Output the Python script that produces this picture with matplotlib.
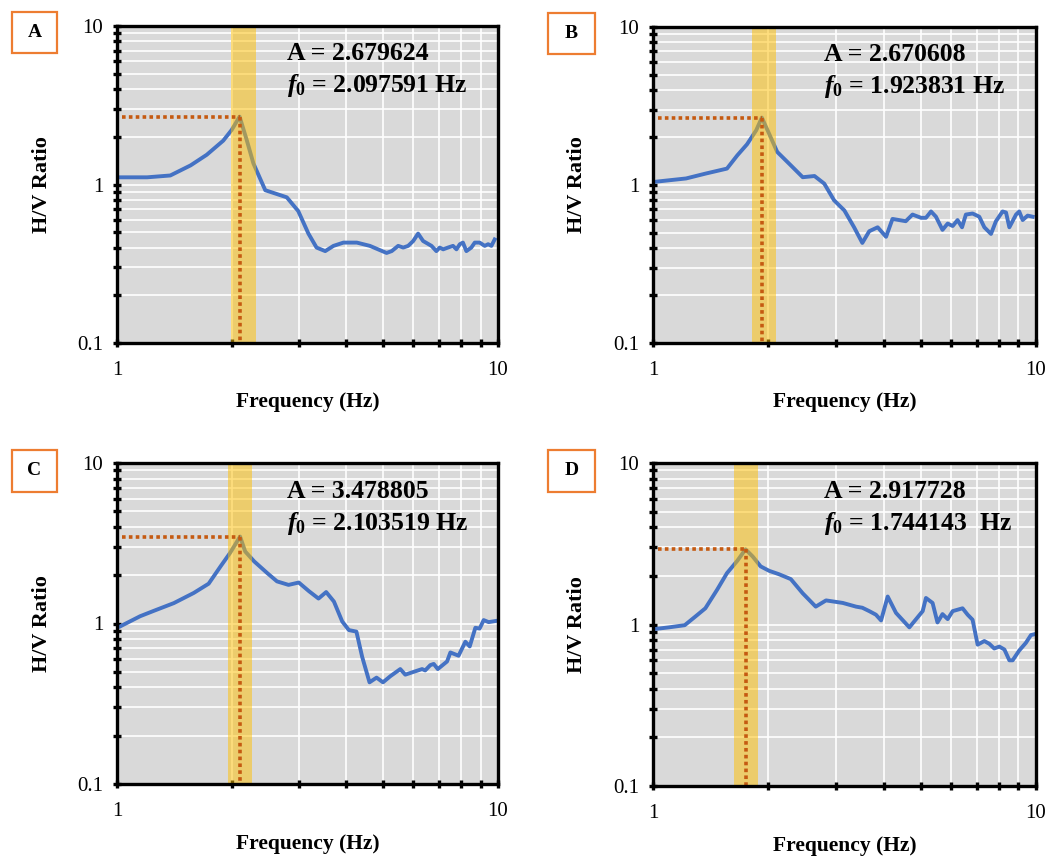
import matplotlib
matplotlib.use("Agg")
import matplotlib.pyplot as plt
from matplotlib.patches import Rectangle
from matplotlib.ticker import LogLocator, NullFormatter

plt.rcParams['font.family'] = ['Liberation Serif', 'DejaVu Serif']
plt.rcParams['mathtext.fontset'] = 'custom'
plt.rcParams['mathtext.rm'] = 'Liberation Serif:bold'
plt.rcParams['mathtext.it'] = 'Liberation Serif:italic:bold'
plt.rcParams['mathtext.bf'] = 'Liberation Serif:bold'

# ---- data ----
panel_names = ['A', 'B', 'C', 'D']
amplitudes = [2.679624, 2.670608, 3.478805, 2.917728]
f0_values = [2.097591, 1.923831, 2.103519, 1.744143]
f0_texts = ['2.097591 Hz', '1.923831 Hz', '2.103519 Hz', '1.744143  Hz']
band_lo = [1.99, 1.81, 1.95, 1.63]
band_hi = [2.31, 2.09, 2.26, 1.88]

freq_a = [1.01, 1.20, 1.38, 1.56, 1.72, 1.90, 2.00, 2.098, 2.19, 2.28, 2.45, 2.63, 2.79, 2.99, 3.18,
          3.34, 3.52, 3.70, 3.93, 4.26, 4.61, 5.10, 5.26, 5.47, 5.64, 5.81, 5.99, 6.17, 6.36, 6.69,
          6.89, 7.03, 7.18, 7.39, 7.62, 7.78, 7.94, 8.09, 8.26, 8.51, 8.69, 8.95, 9.23, 9.42, 9.61, 9.80]
hv_a = [1.11, 1.11, 1.14, 1.32, 1.54, 1.89, 2.21, 2.68, 1.91, 1.36, 0.92, 0.87, 0.83, 0.68, 0.49,
        0.40, 0.38, 0.41, 0.43, 0.43, 0.41, 0.37, 0.38, 0.41, 0.40, 0.41, 0.44, 0.49, 0.44, 0.41,
        0.38, 0.40, 0.39, 0.40, 0.41, 0.39, 0.42, 0.43, 0.38, 0.40, 0.43, 0.43, 0.41, 0.42, 0.41, 0.45]

freq_b = [1.02, 1.22, 1.37, 1.56, 1.66, 1.76, 1.86, 1.924, 2.01, 2.11, 2.27, 2.46, 2.64, 2.80, 2.97,
          3.16, 3.35, 3.52, 3.67, 3.86, 4.06, 4.22, 4.57, 4.76, 5.01, 5.16, 5.32, 5.48, 5.70, 5.88,
          6.06, 6.24, 6.41, 6.56, 6.83, 7.11, 7.33, 7.63, 7.86, 8.18, 8.35, 8.52, 8.87, 9.04, 9.23,
          9.51, 9.80]
hv_b = [1.05, 1.10, 1.18, 1.27, 1.54, 1.81, 2.22, 2.67, 2.11, 1.62, 1.36, 1.12, 1.14, 1.02, 0.80,
        0.69, 0.54, 0.43, 0.51, 0.54, 0.47, 0.61, 0.59, 0.65, 0.62, 0.62, 0.68, 0.63, 0.52, 0.57,
        0.55, 0.60, 0.54, 0.65, 0.66, 0.63, 0.54, 0.49, 0.59, 0.68, 0.67, 0.54, 0.65, 0.68, 0.60,
        0.64, 0.63]

freq_c = [1.02, 1.15, 1.25, 1.41, 1.59, 1.74, 1.87, 1.98, 2.104, 2.17, 2.29, 2.48, 2.63, 2.82, 3.00,
          3.19, 3.38, 3.54, 3.71, 3.90, 4.06, 4.25, 4.40, 4.60, 4.80, 4.99, 5.22, 5.54, 5.71, 6.01,
          6.32, 6.44, 6.64, 6.78, 6.95, 7.35, 7.50, 7.88, 8.21, 8.43, 8.72, 8.95, 9.17, 9.45, 9.94]
hv_c = [0.96, 1.11, 1.20, 1.34, 1.55, 1.77, 2.27, 2.75, 3.48, 2.81, 2.44, 2.06, 1.83, 1.74, 1.80,
        1.59, 1.43, 1.57, 1.37, 1.03, 0.91, 0.89, 0.62, 0.43, 0.46, 0.43, 0.47, 0.52, 0.48, 0.50,
        0.52, 0.51, 0.55, 0.56, 0.52, 0.58, 0.66, 0.63, 0.77, 0.72, 0.94, 0.93, 1.05, 1.02, 1.04]

freq_d = [1.02, 1.10, 1.21, 1.29, 1.37, 1.47, 1.56, 1.66, 1.744, 1.82, 1.91, 2.01, 2.13, 2.29, 2.46,
          2.66, 2.83, 3.13, 3.39, 3.52, 3.67, 3.82, 3.94, 4.10, 4.31, 4.67, 5.06, 5.16, 5.37, 5.53,
          5.70, 5.88, 6.06, 6.43, 6.63, 6.83, 7.04, 7.33, 7.55, 7.78, 8.02, 8.27, 8.52, 8.69, 9.04,
          9.41, 9.70, 9.90]
hv_d = [0.94, 0.96, 0.99, 1.12, 1.26, 1.64, 2.08, 2.48, 2.92, 2.64, 2.29, 2.15, 2.05, 1.91, 1.56,
        1.29, 1.41, 1.36, 1.29, 1.27, 1.21, 1.15, 1.06, 1.49, 1.18, 0.96, 1.21, 1.46, 1.36, 1.03,
        1.16, 1.08, 1.21, 1.26, 1.15, 1.07, 0.75, 0.79, 0.76, 0.71, 0.73, 0.70, 0.60, 0.60, 0.69,
        0.77, 0.86, 0.87]

freqs = [freq_a, freq_b, freq_c, freq_d]
hvs = [hv_a, hv_b, hv_c, hv_d]

# ---- layout (figure pixels) ----
W, H = 1058, 857
axes_px = [(117, 26, 498, 343), (653, 27, 1036, 343),
           (117, 463, 498, 784), (653, 463, 1036, 786)]
box_px = [(12, 12, 57, 53), (548, 13, 595, 54), (12, 450, 57, 492), (548, 450, 595, 492)]

blue = '#4472C4'
dot_col = '#C55A11'

fig = plt.figure(figsize=(W / 100, H / 100), dpi=100)

for i in range(4):
    l, t, r, b = axes_px[i]
    ax = fig.add_axes([l / W, 1 - b / H, (r - l) / W, (b - t) / H])
    ax.set_facecolor('#D9D9D9')
    ax.set_xscale('log')
    ax.set_yscale('log')
    ax.set_xlim(1, 10)
    ax.set_ylim(0.1, 10)

    ax.plot(freqs[i], hvs[i], color=blue, lw=2.8, zorder=3, solid_joinstyle='round')
    ax.axvspan(band_lo[i], band_hi[i], color='#FFC000', alpha=0.5, lw=0, zorder=4)

    A = amplitudes[i]
    f0 = f0_values[i]
    ax.plot([1.03, f0], [A, A], color=dot_col, lw=2.6, ls=(0, (1, 0.9)),
            dash_capstyle='butt', zorder=5)
    ax.plot([f0, f0], [A, 0.1], color=dot_col, lw=2.6, ls=(0, (1, 0.9)),
            dash_capstyle='butt', zorder=5)

    ax.grid(True, which='both', color='white', lw=1.2, zorder=1)
    ax.set_axisbelow(True)

    ax.xaxis.set_minor_locator(LogLocator(base=10, subs=range(2, 10), numticks=20))
    ax.yaxis.set_minor_locator(LogLocator(base=10, subs=range(2, 10), numticks=20))
    ax.xaxis.set_minor_formatter(NullFormatter())
    ax.yaxis.set_minor_formatter(NullFormatter())
    ax.set_xticks([1, 10])
    ax.set_xticklabels(['1', '10'])
    ax.set_yticks([0.1, 1, 10])
    ax.set_yticklabels(['0.1', '1', '10'])
    ax.tick_params(which='both', direction='inout', width=2.4, length=6, color='black')
    ax.tick_params(which='major', labelsize=15, pad=7)
    ax.tick_params(axis='x', which='major', pad=10)

    for sp in ax.spines.values():
        sp.set_linewidth(2.4)
        sp.set_color('black')
        sp.set_zorder(6)

    ax.text(0.5, -0.186, 'Frequency (Hz)', transform=ax.transAxes, ha='center', va='center',
            fontsize=15.5, fontweight='bold')
    ax.text(-0.198, 0.5, 'H/V Ratio', transform=ax.transAxes, ha='center', va='center',
            rotation=90, fontsize=16, fontweight='bold')

    ax.text(0.446, 0.912, f'A = {A:.6f}', transform=ax.transAxes, ha='left', va='center',
            fontsize=18.5, fontweight='bold', zorder=7)
    ax.text(0.446, 0.812, r'$f_{\mathbf{0}}$ = ' + f0_texts[i], transform=ax.transAxes,
            ha='left', va='center', fontsize=18.5, fontweight='bold', zorder=7)

    bl, bt, br, bb = box_px[i]
    fig.patches.append(Rectangle((bl / W, 1 - bb / H), (br - bl) / W, (bb - bt) / H,
                                 transform=fig.transFigure, facecolor='white',
                                 edgecolor='#ED7D31', lw=1.6))
    fig.text((bl + br) / 2 / W, 1 - (bt + bb) / 2 / H, panel_names[i], ha='center',
             va='center', fontsize=14, fontweight='bold')

fig.savefig('out.png', dpi=100)
